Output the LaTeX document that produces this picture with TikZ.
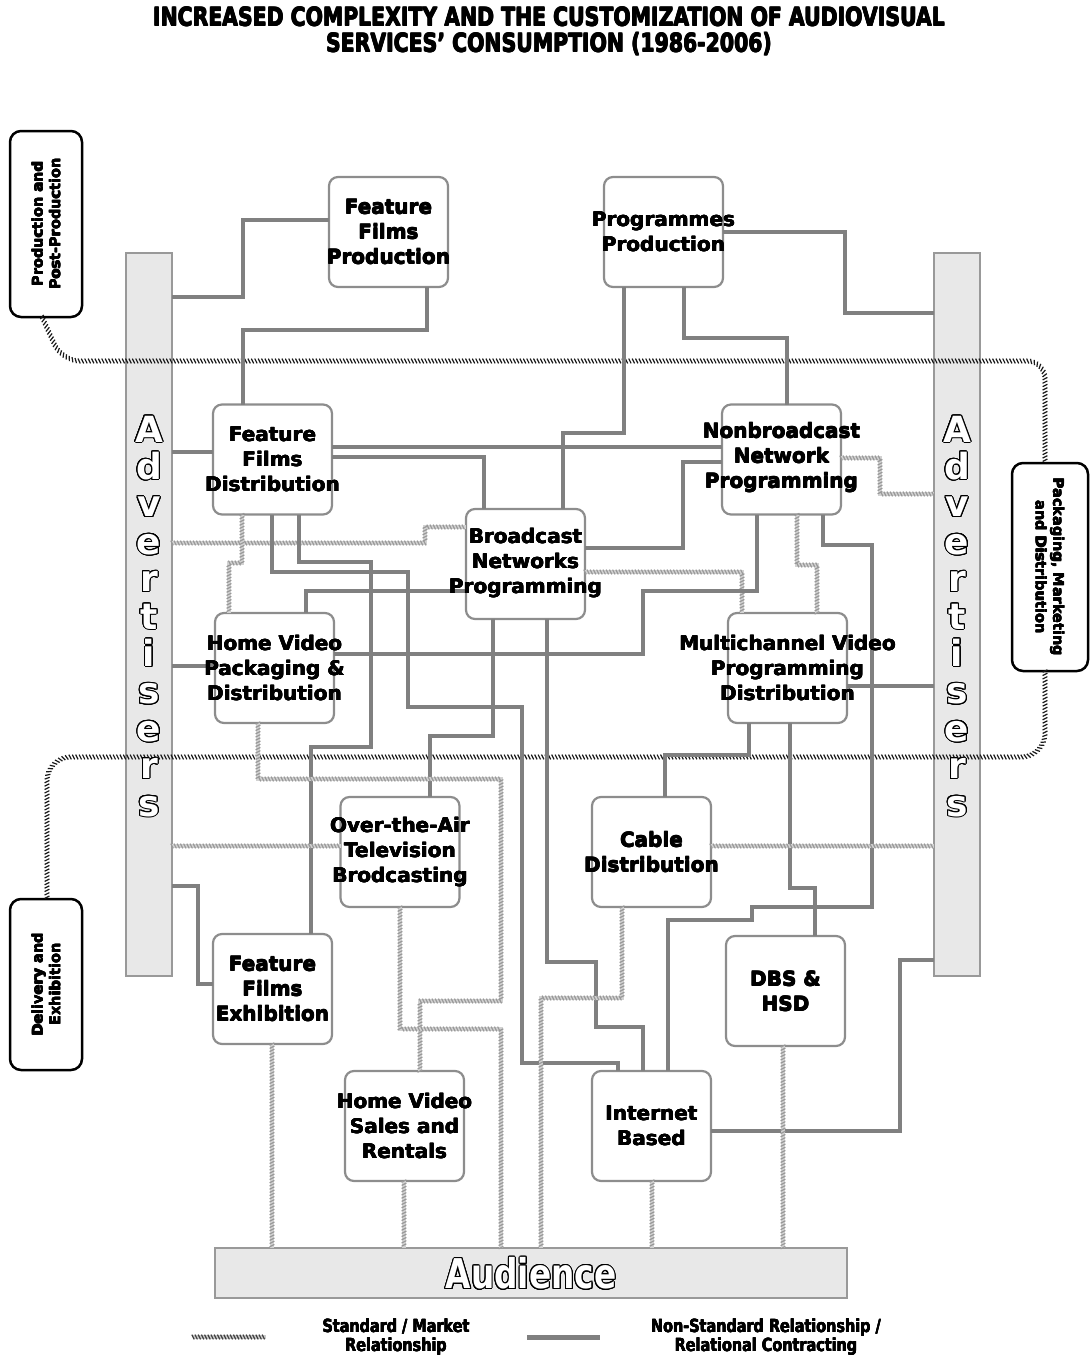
\documentclass[tikz,border=0pt]{standalone}
\usepackage{fontspec}
\setmainfont{DejaVu Sans}
\newfontfamily\condfont{DejaVu Sans}[FakeStretch=0.8]
\usepackage{contour}
\contourlength{1pt}
\contournumber{20}
\usetikzlibrary{decorations.markings,calc}

% heavier lettering: the text set again with small offsets
\newcommand\hv[2][0.5pt]{\leavevmode
  \rlap{\kern#1\hbox{#2}}\rlap{\raisebox{#1}{#2}}\rlap{\kern#1\raisebox{#1}{#2}}%
  \rlap{\kern0.5\dimexpr#1\relax\hbox{#2}}#2\kern#1}
% outlined lettering: white letters with a black rim
\newcommand\outl[1]{{\contourlength{1pt}\contour{black}{\textcolor{white}{#1}}}}

\definecolor{linegray}{RGB}{128,128,128}
\definecolor{bargray}{RGB}{232,232,232}
\colorlet{hatchcol}{gray!80}

\tikzset{
  box/.style={draw=linegray!90, line width=2.2pt, rounded corners=9pt, fill=white,
    minimum width=119pt, minimum height=110pt, inner sep=0pt, outer sep=0pt},
  lbl/.style={font=\bfseries\fontsize{20}{25}\selectfont, align=center, inner sep=0pt},
  bar/.style={draw=linegray!80, line width=1.8pt, fill=bargray, inner sep=0pt, outer sep=0pt},
  phase/.style={draw=black, line width=2.5pt, rounded corners=11pt, fill=white,
    inner sep=0pt, outer sep=0pt},
  ptxt/.style={font=\bfseries\fontsize{14.5}{17.5}\selectfont, align=center, inner sep=0pt},
  ns/.style={draw=linegray, line width=3.2pt},
  hatch/.style={postaction={decorate, decoration={markings,
      mark=between positions 0 and 1 step #1 with
        {\draw[draw=hatchcol, line width=1.2pt] (-1.2pt,2.4pt) -- (1.2pt,-2.4pt);}}}},
  std/.style={draw=gray!35, line width=4.8pt, hatch=3.2pt},
  sep/.style={hatch=3.4pt},
  letter/.style={font=\bfseries\fontsize{36}{36}\selectfont, anchor=base, inner sep=0pt},
  legtxt/.style={font=\condfont\bfseries\fontsize{18}{19}\selectfont, align=center, inner sep=0pt},
}

\begin{document}
\begin{tikzpicture}[x=1pt, y=-1pt]
\useasboundingbox (0,0) rectangle (1091,1357);

% title
\node[font=\condfont\bfseries\fontsize{25.5}{26}\selectfont, align=center] (title) at (549,31)
  {\hv[0.7pt]{INCREASED COMPLEXITY AND THE CUSTOMIZATION OF AUDIOVISUAL}\\\hv[0.7pt]{SERVICES’ CONSUMPTION (1986-2006)}};

% stage boxes
\node[phase, minimum width=72pt, minimum height=186pt] (prod) at (46,224) {};
\node[phase, minimum width=76pt, minimum height=208pt] (pack) at (1050,567) {};
\node[phase, minimum width=72pt, minimum height=171pt] (deliv) at (46,984.5) {};

% advertisers and audience bars
\node[bar, minimum width=46pt, minimum height=723pt] (advL) at (149,614.5) {};
\node[bar, minimum width=46pt, minimum height=723pt] (advR) at (957,614.5) {};
\node[bar, minimum width=632pt, minimum height=50pt] (aud) at (531,1273) {};

% actor boxes
\node[box] (ffp) at (388.5,232) {};
\node[box] (pp)  at (663.5,232) {};
\node[box] (ffd) at (272.5,459.5) {};
\node[box] (nnp) at (781.5,459.5) {};
\node[box] (bnp) at (525.5,564) {};
\node[box] (hvp) at (274.5,668) {};
\node[box] (mvp) at (787.5,668) {};
\node[box] (ota) at (400,852) {};
\node[box] (cd)  at (651.5,852) {};
\node[box] (ffe) at (272.5,989) {};
\node[box] (dbs) at (785.5,991) {};
\node[box] (hvs) at (404.5,1126) {};
\node[box] (ib)  at (651.5,1126) {};

% stage boundaries
\begin{scope}
\colorlet{hatchcol}{black!90}
\path[sep, rounded corners=18pt] (prod.south -| 42,0) -- (62,361) -- (1045,361) -- (pack.north -| 1045,0);
\path[sep, rounded corners=24pt] (pack.south -| 1045,0) -- (1045,757) -- (47,757) -- (deliv.north -| 47,0);
\end{scope}

% production links
\draw[ns] (ffp.west |- 0,220) -| (243,297) -- (advL.east |- 0,297);
\draw[ns] (ffp.south -| 427,0) |- (243,330) -- (ffd.north -| 243,0);
\draw[ns] (pp.south -| 624,0) |- (563,433) -- (bnp.north -| 563,0);
\draw[ns] (pp.east |- 0,232) -| (845,313) -- (advR.west |- 0,313);
\draw[ns] (pp.south -| 684,0) |- (787,338) -- (nnp.north -| 787,0);

% distribution links
\draw[ns] (ffd.west |- 0,452) -- (advL.east |- 0,452);
\draw[ns] (ffd.east |- 0,447) -- (nnp.west |- 0,447);
\draw[ns] (ffd.east |- 0,457) -| (bnp.north -| 484,0);
\draw[std] (nnp.east |- 0,458) -| (880,494) -- (advR.west |- 0,494);
\draw[ns] (nnp.west |- 0,462) -| (683,548) -- (bnp.east |- 0,548);
\draw[std] (bnp.east |- 0,572) -| (mvp.north -| 742,0);
\draw[ns] (hvp.east |- 0,654) -| (643,591) -| (nnp.south -| 757,0);
\draw[std] (nnp.south -| 797,0) |- (817,565) -- (mvp.north -| 817,0);
\draw[ns] (nnp.south -| 823,0) |- (872,545) |- (752,907) |- (668,920) -- (ib.north -| 668,0);
\draw[ns] (mvp.south -| 790,0) |- (815,888) -- (dbs.north -| 815,0);
\draw[ns] (mvp.south -| 749,0) |- (665,755) -- (cd.north -| 665,0);
\draw[ns] (mvp.east |- 0,686) -- (advR.west |- 0,686);
\draw[std] (advL.east |- 0,543) -| (425,527) -- (bnp.west |- 0,527);
\draw[ns] (bnp.west |- 0,591) -| (hvp.north -| 306,0);
\draw[ns] (hvp.west |- 0,666) -- (advL.east |- 0,666);
\draw[std] (ffd.south -| 242,0) |- (229,563) -- (hvp.north -| 229,0);
\draw[ns] (ffd.south -| 299,0) |- (371,562) |- (311,747) -- (ffe.north -| 311,0);
\draw[ns] (ffd.south -| 272,0) |- (408,572) |- (522,707) |- (618,1063) -- (ib.north -| 618,0);
\draw[ns] (bnp.south -| 493,0) |- (430,736) -- (ota.north -| 430,0);
\draw[ns] (bnp.south -| 547,0) |- (596,962) |- (643,1027) -- (ib.north -| 643,0);

% delivery links
\draw[std] (cd.east |- 0,846) -- (advR.west |- 0,846);
\draw[ns] (ib.east |- 0,1131) -| (900,960) -- (advR.west |- 0,960);
\draw[std] (advL.east |- 0,846) -- (ota.west |- 0,846);
\draw[ns] (advL.east |- 0,886) -| (198,984) -- (ffe.west |- 0,984);
\draw[std] (hvp.south -| 258,0) |- (501,779) |- (420,1001) -- (hvs.north -| 420,0);
\draw[std] (ota.south -| 400,0) |- (501,1029) -- (aud.north -| 501,0);
\draw[std] (cd.south -| 622,0) |- (541,998) -- (aud.north -| 541,0);
\draw[std] (ffe.south -| 272,0) -- (aud.north -| 272,0);
\draw[std] (hvs.south -| 404,0) -- (aud.north -| 404,0);
\draw[std] (ib.south -| 652,0) -- (aud.north -| 652,0);
\draw[std] (dbs.south -| 783,0) -- (aud.north -| 783,0);

% box labels
\node[lbl] (ffp-t) at (ffp) {\hv{Feature}\\\hv{Films}\\\hv{Production}};
\node[lbl] (pp-t)  at (pp)  {\hv{Programmes}\\\hv{Production}};
\node[lbl] (ffd-t) at (ffd) {\hv{Feature}\\\hv{Films}\\\hv{Distribution}};
\node[lbl] (nnp-t) at ([yshift=2pt]nnp.center) {\hv{Nonbroadcast}\\\hv{Network}\\\hv{Programming}};
\node[lbl] (bnp-t) at ([yshift=1pt]bnp.center) {\hv{Broadcast}\\\hv{Networks}\\\hv{Programming}};
\node[lbl] (hvp-t) at (hvp) {\hv{Home Video}\\\hv{Packaging \&}\\\hv{Distribution}};
\node[lbl] (mvp-t) at (mvp) {\hv{Multichannel Video}\\\hv{Programming}\\\hv{Distribution}};
\node[lbl] (ota-t) at (ota) {\hv{Over-the-Air}\\\hv{Television}\\\hv{Brodcasting}};
\node[lbl] (cd-t)  at (cd)  {\hv{Cable}\\\hv{Distribution}};
\node[lbl] (ffe-t) at (ffe) {\hv{Feature}\\\hv{Films}\\\hv{Exhibition}};
\node[lbl] (dbs-t) at (dbs) {\hv{DBS \&}\\\hv{HSD}};
\node[lbl] (hvs-t) at (hvs) {\hv{Home Video}\\\hv{Sales and}\\\hv{Rentals}};
\node[lbl] (ib-t)  at (ib)  {\hv{Internet}\\\hv{Based}};

% stage labels
\node[ptxt, rotate=90]  (prod-t)  at (prod)  {\hv[0.35pt]{Production and}\\\hv[0.35pt]{Post-Production}};
\node[ptxt, rotate=-90] (pack-t)  at (pack)  {\hv[0.35pt]{Packaging, Marketing}\\\hv[0.35pt]{and Distribution}};
\node[ptxt, rotate=90]  (deliv-t) at (deliv) {\hv[0.35pt]{Delivery and}\\\hv[0.35pt]{Exhibition}};

% outlined lettering
\foreach \c [count=\i from 0] in {A,d,v,e,r,t,i,s,e,r,s} {
  \node[letter] (advL-\i) at (149,{442+37.4*\i}) {\outl{\c}};
  \node[letter] (advR-\i) at (957,{442+37.4*\i}) {\outl{\c}};
}
\node[font=\condfont\bfseries\fontsize{41}{41}\selectfont, inner sep=0pt] (aud-t) at (531,1274)
  {\outl{Audience}};

% legend
\coordinate (lg1a) at (193,1337);
\coordinate (lg1b) at (266,1337);
\begin{scope}
\colorlet{hatchcol}{black!75}
\draw[std, draw=gray!40] (lg1a) -- (lg1b);
\end{scope}
\node[legtxt] (lg1t) at (396,1337) {\hv[0.45pt]{Standard / Market}\\\hv[0.45pt]{Relationship}};
\coordinate (lg2a) at (527,1337);
\coordinate (lg2b) at (600,1337);
\draw[ns, line width=5pt] (lg2a) -- (lg2b);
\node[legtxt] (lg2t) at (766,1337) {\hv[0.45pt]{Non-Standard Relationship /}\\\hv[0.45pt]{Relational Contracting}};
\end{tikzpicture}
\end{document}
